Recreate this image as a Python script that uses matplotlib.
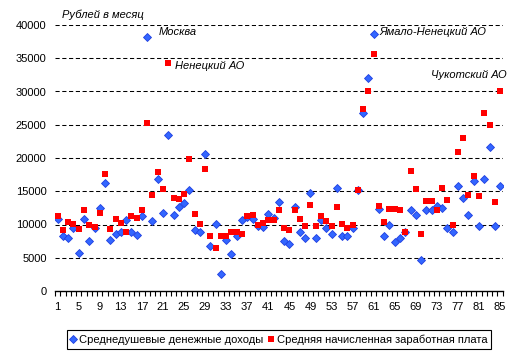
import numpy as np
import matplotlib
matplotlib.use("Agg")
import matplotlib.pyplot as plt

plt.rcParams['font.family'] = ['Liberation Sans', 'DejaVu Sans']

regions = list(range(1, 86))
income = [10800, 8300, 8000, 9500, 5760, 10800, 7570, 9470, 12500, 16200,
          7700, 8600, 8800, 10700, 8870, 8470, 11300, 38200, 10600, 16900,
          11800, 23500, 11400, 12700, 13300, 15200, 9200, 8900, 20600, 6800,
          10100, 2600, 7600, 5500, 8200, 10700, 11100, 10900, 9700, 9670,
          11600, 11000, 13400, 7560, 7100, 12600, 8900, 8000, 14800, 7900,
          10700, 9400, 8600, 15500, 8200, 8200, 9400, 15200, 26700, 32000,
          38700, 12400, 8200, 10000, 7400, 7900, 8900, 12200, 11500, 4700,
          12200, 12200, 12800, 12500, 9400, 8900, 15800, 14000, 11500, 16600,
          9800, 16900, 21700, 9800, 15800]
wages = [11300, 9200, 10400, 10100, 9370, 12200, 9900, 9670, 11800, 17600,
         9300, 10900, 10200, 8870, 11300, 11000, 12200, 25300, 14500, 17900,
         15300, 34300, 14000, 13900, 14600, 19900, 11600, 10100, 18400, 8300,
         6500, 8300, 8200, 8900, 8800, 8600, 11300, 11500, 10000, 10300,
         10700, 10700, 12200, 9500, 9200, 12200, 10900, 9800, 13000, 9800,
         11300, 10600, 9800, 12700, 10100, 9400, 10000, 15200, 27300, 30100,
         35600, 12800, 10400, 12400, 12400, 12200, 8900, 18100, 15400, 8500,
         13600, 13600, 12200, 15500, 13700, 10000, 20900, 23000, 14500, 17300,
         14300, 26700, 24900, 13400, 30000]
yticks = [0, 5000, 10000, 15000, 20000, 25000, 30000, 35000, 40000]
xlabels = list(range(1, 86, 4))
series_names = ['Среднедушевые денежные доходы', 'Средняя начисленная заработная плата']
unit_label = 'Рублей в месяц'
annotations = [('Москва', 0, 18), ('Ненецкий АО', 1, 22),
               ('Ямало-Ненецкий АО', 0, 61), ('Чукотский АО', 1, 85)]

fig = plt.figure(figsize=(5.18, 3.58), dpi=100)
ax = fig.add_axes([55/518, 1-291/358, 447.7/518, 266/358])

for y in yticks[1:]:
    ax.axhline(y, color='black', lw=0.75, ls=(0, (4, 2.5)), zorder=1)

l1, = ax.plot(regions, income, ls='none', marker='D', ms=4.3,
              mfc='#3366FF', mec='#1F3FE0', mew=0.6, zorder=3, label=series_names[0])
l2, = ax.plot(regions, wages, ls='none', marker='s', ms=5.0,
              mfc='#FF0000', mec='#FF0000', mew=0, zorder=4, label=series_names[1])

ax.set_xlim(0.5, 85.5)
ax.set_ylim(0, 40000)
for s in ['top', 'right', 'left']:
    ax.spines[s].set_visible(False)
ax.spines['bottom'].set_linewidth(1.0)

ax.set_yticks(yticks)
ax.set_yticklabels([str(v) for v in yticks], fontsize=8)
ax.tick_params(axis='y', length=0, pad=6)

ax.set_xticks(xlabels)
ax.set_xticklabels([str(v) for v in xlabels], fontsize=8)
ax.set_xticks(np.arange(0.5, 86, 1), minor=True)
ax.tick_params(axis='x', which='major', length=0, pad=8)
ax.tick_params(axis='x', which='minor', length=3.5, width=0.8, direction='out')

ax.text(62/518, 1-15/358, unit_label, transform=fig.transFigure,
        fontsize=8, style='italic', ha='left', va='center')

offsets = {'Москва': (11, 5, 'left'), 'Ненецкий АО': (7, -3, 'left'),
           'Ямало-Ненецкий АО': (6, 2, 'left'), 'Чукотский АО': (7, 17, 'right')}
for name, si, reg in annotations:
    val = (income if si == 0 else wages)[reg - 1]
    dx, dy, ha = offsets[name]
    ax.annotate(name, xy=(reg, val), xytext=(dx, dy), textcoords='offset pixels',
                fontsize=8, style='italic', ha=ha, va='center')

leg = fig.legend(handles=[l1, l2], loc='center', bbox_to_anchor=(279/518, 1-339.5/358),
                 ncol=2, fontsize=8, frameon=True, fancybox=False, edgecolor='black',
                 framealpha=1, handlelength=0.5, handletextpad=0.3, columnspacing=0.4,
                 borderpad=0.35, borderaxespad=0, markerscale=0.85)
leg.get_frame().set_linewidth(0.8)

fig.savefig('out.png', dpi=100)
